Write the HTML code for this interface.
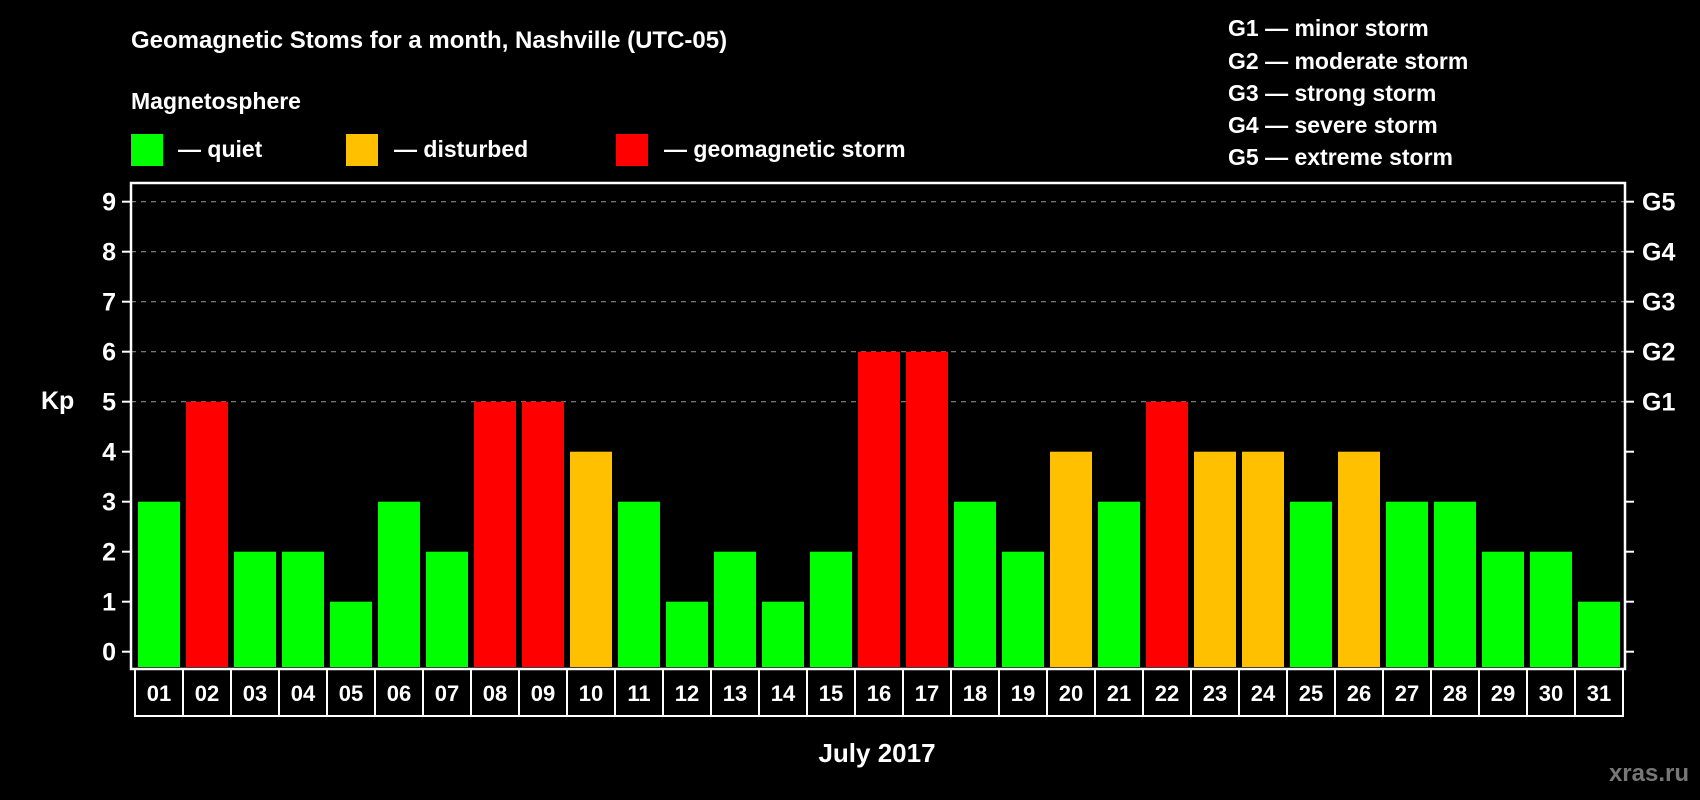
<!DOCTYPE html>
<html><head><meta charset="utf-8"><style>
html,body{margin:0;padding:0;background:#000;width:1700px;height:800px;overflow:hidden}
svg text{font-family:"Liberation Sans",Arial,sans-serif;font-weight:bold;fill:#fff}
</style></head><body>
<svg id="chart" width="1700" height="800" xmlns="http://www.w3.org/2000/svg">
<rect x="0" y="0" width="1700" height="800" fill="#000"/>
<text x="131" y="48" font-size="24">Geomagnetic Stoms for a month, Nashville (UTC-05)</text>
<text x="131" y="109" font-size="23">Magnetosphere</text>
<rect x="131" y="134" width="32" height="32" fill="#00ff00"/>
<text x="178" y="157" font-size="23">— quiet</text>
<rect x="346" y="134" width="32" height="32" fill="#ffc000"/>
<text x="394" y="157" font-size="23">— disturbed</text>
<rect x="616" y="134" width="32" height="32" fill="#ff0000"/>
<text x="664" y="157" font-size="23">— geomagnetic storm</text>
<g font-size="23">
<text x="1228" y="36">G1 — minor storm</text>
<text x="1228" y="69">G2 — moderate storm</text>
<text x="1228" y="101">G3 — strong storm</text>
<text x="1228" y="133">G4 — severe storm</text>
<text x="1228" y="165">G5 — extreme storm</text>
</g>
<text x="41" y="409" font-size="25">Kp</text>
<text x="877" y="762" font-size="26" text-anchor="middle">July 2017</text>
<text x="1689" y="781" font-size="24" text-anchor="end" style="fill:#777">xras.ru</text>
<g id="grid"></g><g id="bars"></g><g id="axes"></g>
</svg>
<script>
const days=["01","02","03","04","05","06","07","08","09","10","11","12","13","14","15","16","17","18","19","20","21","22","23","24","25","26","27","28","29","30","31"];
const kp=[3,5,2,2,1,3,2,5,5,4,3,1,2,1,2,6,6,3,2,4,3,5,4,4,3,4,3,3,2,2,1];
const yTicks=[0,1,2,3,4,5,6,7,8,9];
const gLabels=["G1","G2","G3","G4","G5"];
const gLevels=[5,6,7,8,9];
const NS="http://www.w3.org/2000/svg";
const L=131,R=1625,T=183,B=669,BAR_BOTTOM=667;
function y(v){return 651.7-v*50;}
function x(i){return 138+i*48;}
function mk(tag,attrs,parent){const e=document.createElementNS(NS,tag);for(const k in attrs)e.setAttribute(k,attrs[k]);parent.appendChild(e);return e;}
const grid=document.getElementById('grid'),bars=document.getElementById('bars'),axes=document.getElementById('axes');
yTicks.forEach(v=>{
  if(v>=5){const g=mk('line',{x1:L,x2:R,y1:y(v),y2:y(v),stroke:'#888','stroke-width':1.2,'stroke-dasharray':'5,5'},grid);
    
    }
  const t=mk('line',{x1:L-9,x2:L,y1:y(v),y2:y(v),stroke:'#fff','stroke-width':2},axes);
  
  
  const t2=mk('line',{x1:R,x2:R+9,y1:y(v),y2:y(v),stroke:'#fff','stroke-width':2},axes);
  
  
  const lb=mk('text',{x:L-15,y:y(v)+9,'font-size':25,'text-anchor':'end'},axes);lb.textContent=v;
  
  
});
gLabels.forEach((g,i)=>{
  const lb=mk('text',{x:R+17,y:y(gLevels[i])+9,'font-size':25},axes);lb.textContent=g;
  
  
});
function col(v){return v>=5?'#ff0000':(v===4?'#ffc000':'#00ff00');}
kp.forEach((v,i)=>{
  const b=mk('rect',{x:x(i),y:y(v),width:42,height:BAR_BOTTOM-y(v),fill:col(v)},bars);
  
  
});
const box=mk('rect',{x:L,y:T,width:R-L,height:B-T,fill:'none',stroke:'#fff','stroke-width':2.5},axes);


days.forEach((d,i)=>{
  const c=mk('rect',{x:135+i*48,y:B,width:48,height:47,fill:'none',stroke:'#fff','stroke-width':2},axes);
  
  
  const t=mk('text',{x:159+i*48,y:B+32,'font-size':22,'text-anchor':'middle'},axes);t.textContent=d;
  
  
});
</script>
</body></html>
